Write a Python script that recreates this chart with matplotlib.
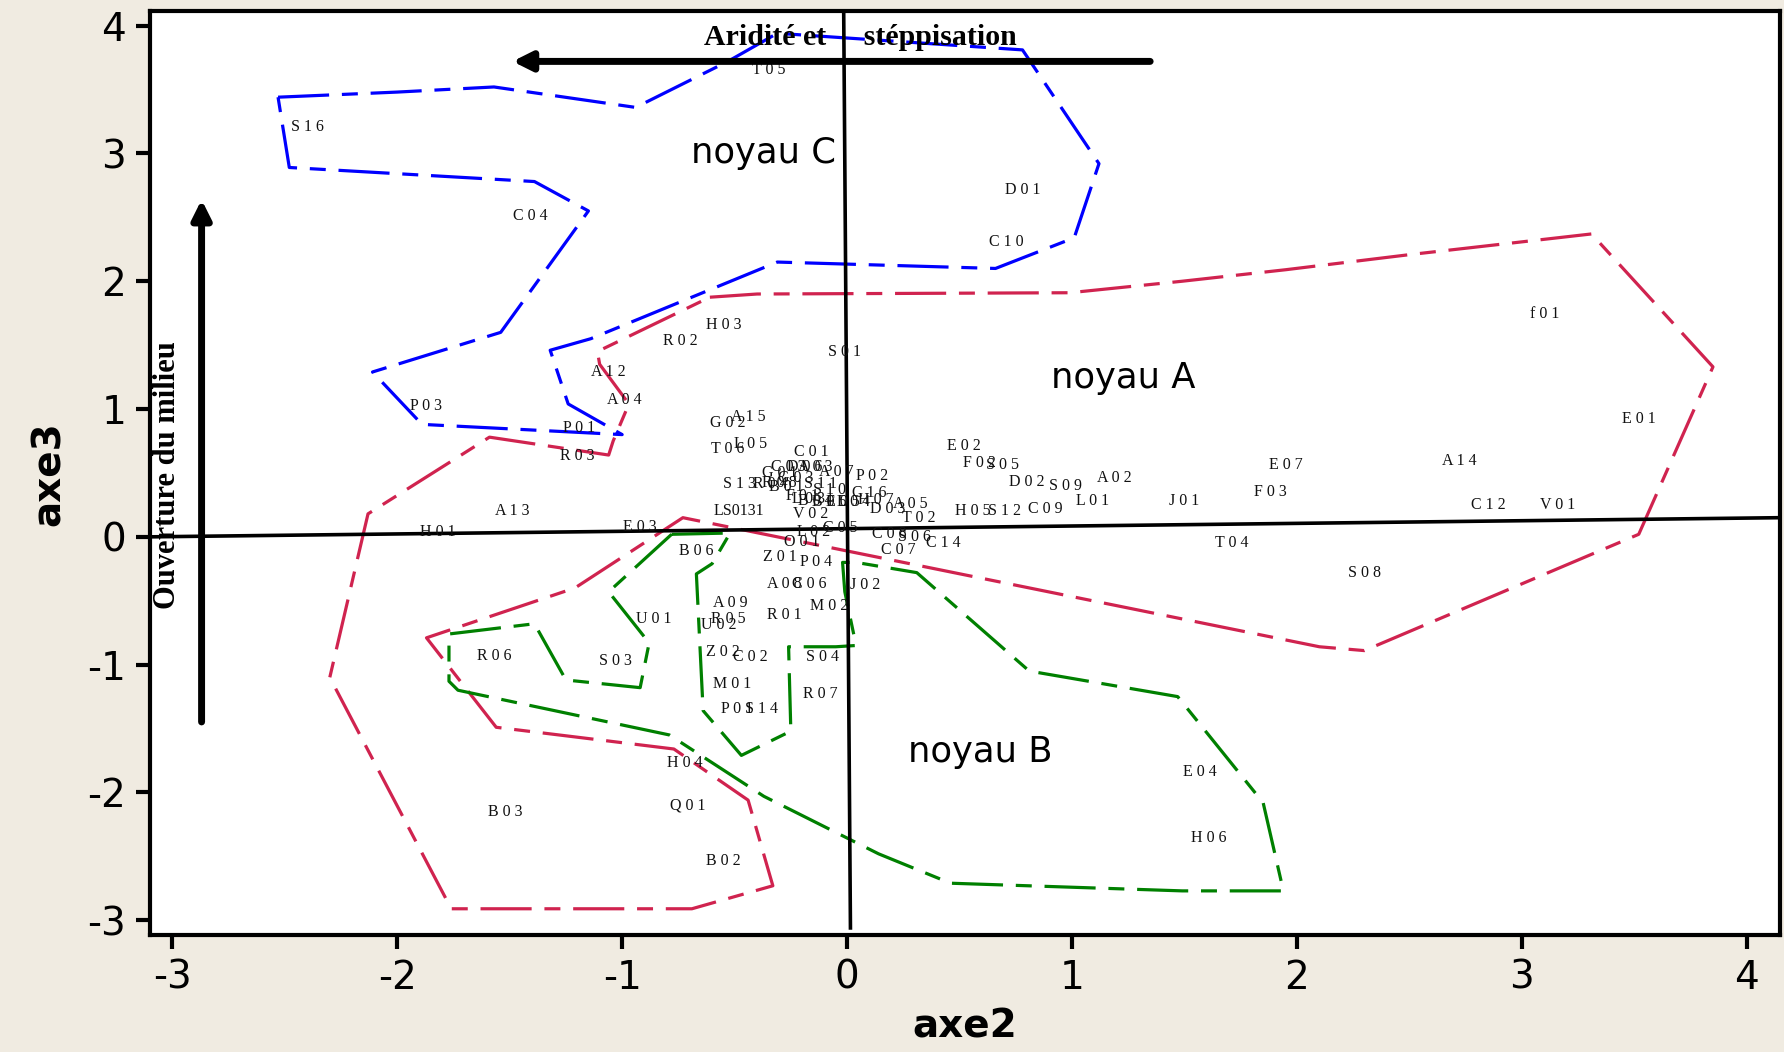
import matplotlib
matplotlib.use("Agg")
import matplotlib.pyplot as plt

plt.rcParams["axes.unicode_minus"] = False

# station labels and their coordinates on axes 2 / 3
labels = ["S 1 6", "T 0 5", "C 0 4", "D 0 1", "C 1 0", "f 0 1", "H 0 3", "R 0 2",
          "S 0 1", "A 1 2", "A 0 4", "P 0 3", "E 0 1", "A 1 5", "G 0 2", "P 0 1",
          "L 0 5", "T 0 6", "C 0 1", "R 0 3", "E 0 2", "F 0 2", "S 0 5", "A 1 4",
          "E 0 7", "D 0 2", "S 0 9", "A 0 2", "F 0 3", "L 0 1", "J 0 1", "C 1 2",
          "V 0 1", "H 0 5", "S 1 2", "C 0 9", "A 0 5", "D 0 3", "T 0 2", "C 0 8",
          "S 0 6", "C 1 4", "C 0 7", "T 0 4", "S 0 8", "H 0 1", "A 1 3", "E 0 3",
          "S 1 3", "R 0 4", "LS0131", "V 0 2", "L 0 2", "C 0 5", "O 0 1", "B 0 6",
          "Z 0 1", "P 0 4", "A 0 8", "C 0 6", "J 0 2", "A 0 9", "M 0 2", "R 0 5",
          "U 0 2", "R 0 1", "U 0 1", "R 0 6", "Z 0 2", "C 0 2", "S 0 3", "S 0 4",
          "M 0 1", "R 0 7", "P 0 1", "S 1 4", "H 0 4", "E 0 4", "Q 0 1", "B 0 3",
          "H 0 6", "B 0 2",
          "G 0 1", "C 0 3", "D 0 6", "A 0 3", "A 0 7", "P 0 2", "C 1 6", "R 0 8",
          "B 0 1", "S 1 1", "S 1 0", "L 0 3", "B 0 5", "L 0 4", "E 0 5", "H 0 7",
          "G 0 3", "F 0 1", "B 0 4"]
axe2 = [-2.40, -0.35, -1.41, 0.78, 0.71, 3.10, -0.55, -0.74,
        -0.01, -1.06, -0.99, -1.87, 3.52, -0.44, -0.53, -1.19,
        -0.43, -0.53, -0.16, -1.20, 0.52, 0.59, 0.69, 2.72,
        1.95, 0.80, 0.97, 1.19, 1.88, 1.09, 1.50, 2.85,
        3.16, 0.56, 0.70, 0.88, 0.28, 0.18, 0.32, 0.19,
        0.30, 0.43, 0.23, 1.71, 2.30, -1.82, -1.49, -0.92,
        -0.48, -0.34, -0.48, -0.16, -0.15, -0.03, -0.20, -0.67,
        -0.30, -0.14, -0.28, -0.17, 0.08, -0.52, -0.08, -0.53,
        -0.57, -0.28, -0.86, -1.57, -0.55, -0.43, -1.03, -0.11,
        -0.51, -0.12, -0.49, -0.38, -0.72, 1.57, -0.71, -1.52,
        1.61, -0.55,
        -0.30, -0.26, -0.19, -0.14, -0.05, 0.11, 0.10, -0.30,
        -0.27, -0.12, -0.08, -0.17, -0.08, 0.03, -0.02, 0.13,
        -0.23, -0.20, -0.14]
axe3 = [3.21, 3.65, 2.51, 2.71, 2.31, 1.74, 1.66, 1.53,
        1.45, 1.29, 1.07, 1.02, 0.92, 0.94, 0.89, 0.85,
        0.73, 0.69, 0.66, 0.63, 0.71, 0.58, 0.56, 0.59,
        0.56, 0.43, 0.40, 0.46, 0.35, 0.28, 0.28, 0.25,
        0.25, 0.20, 0.20, 0.22, 0.26, 0.22, 0.15, 0.02,
        0.00, -0.05, -0.10, -0.05, -0.28, 0.04, 0.20, 0.08,
        0.41, 0.41, 0.20, 0.18, 0.04, 0.07, -0.04, -0.11,
        -0.16, -0.20, -0.37, -0.37, -0.38, -0.52, -0.54, -0.64,
        -0.69, -0.61, -0.64, -0.93, -0.90, -0.94, -0.97, -0.94,
        -1.15, -1.23, -1.35, -1.35, -1.77, -1.84, -2.10, -2.15,
        -2.36, -2.54,
        0.50, 0.55, 0.55, 0.55, 0.51, 0.48, 0.34, 0.42,
        0.39, 0.41, 0.37, 0.30, 0.27, 0.27, 0.27, 0.29,
        0.46, 0.32, 0.28]

# outlines of the three groups
noyau_A_x = [-0.61, -0.40, 0.99, 1.49, 1.95, 2.51, 3.31, 3.85, 3.52, 2.30, 2.10,
             -0.73, -1.21, -1.87, -1.56, -0.77, -0.44, -0.33, -0.69, -1.76, -2.30,
             -2.13, -1.59, -1.06, -1.04, -0.97, -1.10, -1.11, -0.61]
noyau_A_y = [1.875, 1.90, 1.91, 2.00, 2.09, 2.21, 2.37, 1.33, 0.02, -0.89, -0.86,
             0.15, -0.40, -0.79, -1.49, -1.66, -2.06, -2.73, -2.91, -2.91, -1.10,
             0.18, 0.78, 0.64, 0.75, 1.04, 1.35, 1.45, 1.875]
noyau_B_x = [-0.78, -0.52, -0.60, -0.67, -0.64, -0.47, -0.25, -0.26, -0.05, 0.04,
             -0.01, -0.02, 0.04, 0.31, 0.81, 1.47, 1.85, 1.94, 1.49, 0.46, 0.14,
             -0.37, -0.79, -1.73, -1.77, -1.77, -1.39, -1.25, -0.92, -0.88, -1.06, -0.78]
noyau_B_y = [0.02, 0.03, -0.21, -0.29, -1.36, -1.71, -1.52, -0.86, -0.86, -0.85,
             -0.43, -0.20, -0.20, -0.28, -1.05, -1.25, -2.08, -2.77, -2.77, -2.71, -2.48,
             -2.03, -1.55, -1.20, -1.13, -0.76, -0.68, -1.12, -1.18, -0.83, -0.43, 0.02]
noyau_C_x = [-2.53, -2.00, -1.57, -0.94, -0.53, -0.31, 0.78, 1.12, 1.01, 0.66, -0.31,
             -1.14, -1.32, -1.24, -1.00, -1.89, -2.11, -1.54, -1.15, -1.39, -2.48, -2.53]
noyau_C_y = [3.44, 3.48, 3.52, 3.36, 3.72, 3.94, 3.81, 2.92, 2.34, 2.10, 2.15,
             1.55, 1.46, 1.04, 0.80, 0.88, 1.29, 1.60, 2.55, 2.78, 2.89, 3.44]

fig = plt.figure(figsize=(17.84, 10.52), dpi=100, facecolor="#f0ebe1")
ax = fig.add_axes([0.084, 0.111, 0.914, 0.8785])
ax.set_facecolor("white")

dash = (0, (16, 4, 5, 4))
ax.plot(noyau_A_x, noyau_A_y, color="#d0234f", lw=2.3, linestyle=dash)
ax.plot(noyau_B_x, noyau_B_y, color="#008000", lw=2.3, linestyle=dash)
ax.plot(noyau_C_x, noyau_C_y, color="#0000ff", lw=2.3, linestyle=dash)

# slightly tilted reference axes as drawn in the original
ax.plot([-3.10, 4.15], [0.0, 0.15], color="black", lw=2.6)
ax.plot([-0.015, 0.015], [4.114, -3.06], color="black", lw=2.6)

for lab, x, y in zip(labels, axe2, axe3):
    ax.text(x, y, lab, fontsize=11.5, family="Liberation Serif", color="#111111",
            ha="center", va="center")

ax.annotate("", xy=(-1.50, 3.72), xytext=(1.36, 3.72),
            arrowprops=dict(arrowstyle="-|>", lw=5, color="black", mutation_scale=28))
ax.annotate("", xy=(-2.87, 2.66), xytext=(-2.87, -1.47),
            arrowprops=dict(arrowstyle="-|>", lw=5, color="black", mutation_scale=28))
ax.text(0.06, 3.91, "Aridité et     stéppisation", fontsize=21.5, fontweight="bold",
        family="Liberation Serif", ha="center", va="center")
ax.text(-3.02, 0.48, "Ouverture du milieu", fontsize=22, fontweight="bold",
        family="Liberation Serif", ha="center", va="center", rotation=90)

ax.text(-0.37, 3.0, "noyau C", fontsize=25.5, ha="center", va="center")
ax.text(1.23, 1.24, "noyau A", fontsize=25.5, ha="center", va="center")
ax.text(0.59, -1.68, "noyau B", fontsize=25.5, ha="center", va="center")

ax.set_xlim(-3.10, 4.15)
ax.set_ylim(-3.117, 4.114)
ax.set_xticks(range(-3, 5))
ax.set_yticks(range(-3, 5))
ax.tick_params(direction="out", length=10, width=3, labelsize=28, pad=7)
for s in ax.spines.values():
    s.set_linewidth(3)
ax.set_xlabel("axe2", fontsize=28, fontweight="bold", labelpad=8)
ax.set_ylabel("axe3", fontsize=28, fontweight="bold", labelpad=14)

fig.savefig("out.png", dpi=100, facecolor=fig.get_facecolor())
